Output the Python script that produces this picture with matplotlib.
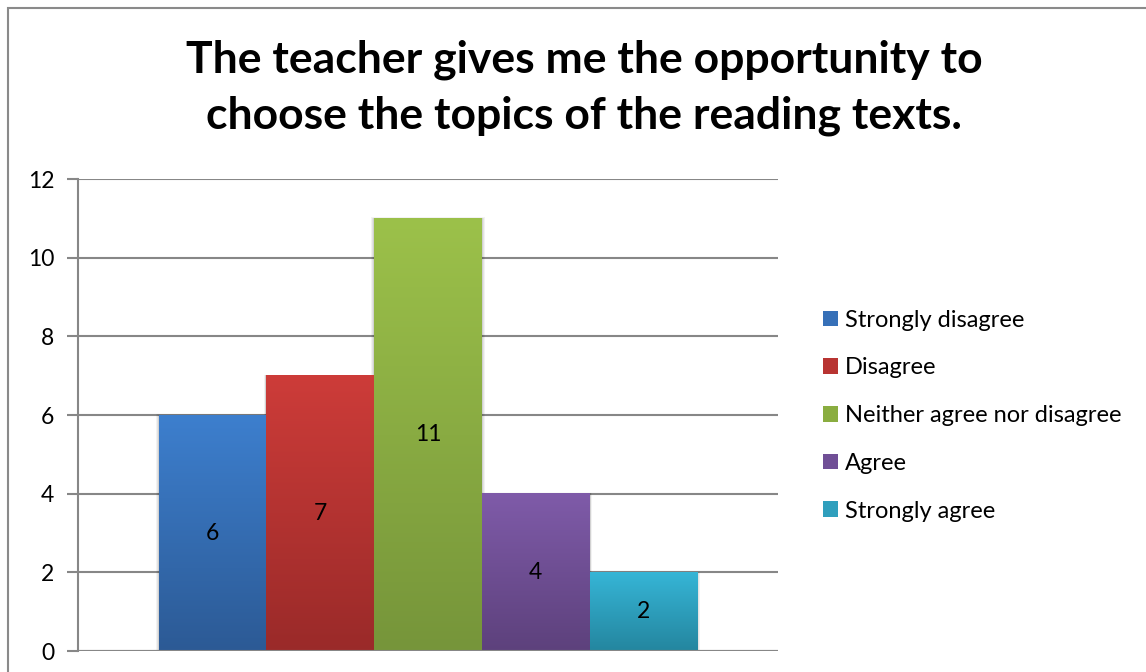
import matplotlib
matplotlib.use("Agg")
import matplotlib.pyplot as plt
import matplotlib.patches as mpatches
import numpy as np
from matplotlib.colors import LinearSegmentedColormap

plt.rcParams['font.family'] = ['Lato', 'DejaVu Sans']

title_lines = ["The teacher gives me the opportunity to",
               "choose the topics of the reading texts."]
answers = ["Strongly disagree", "Disagree", "Neither agree nor disagree", "Agree", "Strongly agree"]
counts = [6, 7, 11, 4, 2]
top_colors = ["#3d7fce", "#cd3c39", "#9cc14a", "#7f5ba9", "#36b5d6"]
bottom_colors = ["#2c5a95", "#9a2a29", "#76953a", "#5d417c", "#24869f"]
mid_colors = ["#3670b8", "#b83432", "#8aad40", "#704f96", "#2f9fbd"]
yticks = [0, 2, 4, 6, 8, 10, 12]

W, H = 1146, 672
fs = 16.5
fig = plt.figure(figsize=(W / 100, H / 100), dpi=100)
ax = fig.add_axes([78 / W, 1 - 651 / H, 700 / W, 472 / H])

# one category, five series side by side, Excel style gap of 1.5 bar widths
gap = 1.5
xs = gap / 2 + np.arange(len(counts))
grid_col = "#878787"

bars = ax.bar(xs, counts, width=1.0, align="edge", color=mid_colors, zorder=3,
              linewidth=0)

grad = np.linspace(0, 1, 256).reshape(-1, 1)
for i, (b, v) in enumerate(zip(bars, counts)):
    x0 = b.get_x()
    x1 = x0 + b.get_width()
    # soft shadow around the bar
    for k, a in zip([0.09, 0.06, 0.03], [0.05, 0.06, 0.08]):
        sh = mpatches.Rectangle((x0 - k * 0.3, 0), (x1 - x0) + k * 0.6, v + k * 0.25,
                                facecolor="black", alpha=a, linewidth=0, zorder=2)
        ax.add_patch(sh)
    cmap = LinearSegmentedColormap.from_list("g%d" % i, [bottom_colors[i], top_colors[i]])
    ax.imshow(grad, cmap=cmap, extent=(x0, x1, 0, v), origin="lower",
              aspect="auto", zorder=4, interpolation="bicubic")
    ax.text(x0 + 0.5, v / 2, str(v), ha="center", va="center", fontsize=fs,
            color="black", zorder=5)

ax.set_xlim(0, len(counts) + gap)
ax.set_ylim(0, 12)
ax.set_yticks(yticks)
ax.set_xticks([])
ax.tick_params(axis="y", length=8, width=1.5, color=grid_col, labelsize=fs, pad=9)
ax.grid(axis="y", color=grid_col, linewidth=1.5, zorder=1)
for s in ["top", "right", "bottom"]:
    ax.spines[s].set_visible(False)
ax.spines["left"].set_color(grid_col)
ax.spines["left"].set_linewidth(1.5)
ax.spines["left"].set_zorder(6)
ax.axhline(0, color=grid_col, linewidth=1.5, zorder=6)

# two title lines, placed by baseline
for line, base in zip(title_lines, [73, 128]):
    fig.text(584 / W, 1 - base / H, line, ha="center", va="baseline", fontsize=32,
             fontweight="bold")

handles = [mpatches.Patch(facecolor=c, linewidth=0) for c in mid_colors]
fig.legend(handles, answers, loc="upper left", bbox_to_anchor=(811 / W, 1 - 298 / H),
           frameon=False, fontsize=17, handlelength=0.64, handleheight=0.64,
           handletextpad=0.3, labelspacing=1.13, borderpad=0)

# chart area outline
fig.add_artist(mpatches.Rectangle((8 / W, -0.1), 1.2, 1 - 8 / H + 0.1,
                                  transform=fig.transFigure, fill=False,
                                  edgecolor="#8a8a8a", linewidth=1.5))

fig.savefig("out.png", dpi=100)
